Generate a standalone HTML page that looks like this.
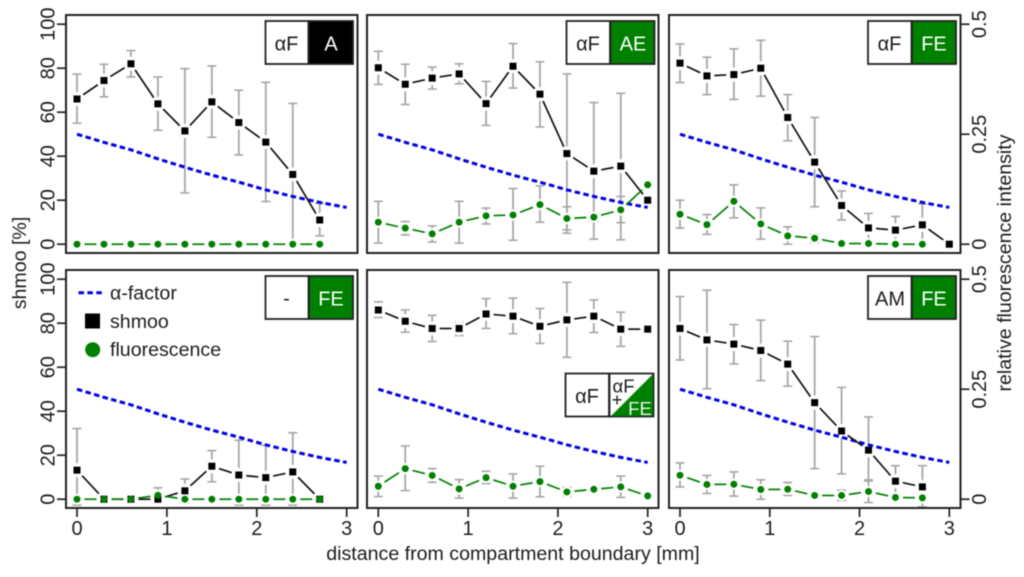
<!DOCTYPE html>
<html lang="en">
<head>
<meta charset="utf-8">
<title>Shmoo and fluorescence vs distance</title>
<style>
html,body{margin:0;padding:0;background:#fff;}
#chart{display:block;width:1024px;height:577px;filter:blur(0.55px);font-family:"Liberation Sans",sans-serif;fill:#1c1c1c;}
text{font-family:"Liberation Sans",sans-serif;}
</style>
</head>
<body>
<svg id="chart" xmlns="http://www.w3.org/2000/svg" width="1024" height="577" viewBox="0 0 1024 577">
  <g id="plots"></g>

  <g>
    <rect x="265.5" y="21" width="43" height="43" fill="#fff" stroke="#222" stroke-width="1.8"/>
    <rect x="308.5" y="21" width="44.5" height="43" fill="#000" stroke="#222" stroke-width="1.8"/>
    <text x="286.5" y="50.5" font-size="20" text-anchor="middle">αF</text>
    <text x="331" y="50.5" font-size="20" text-anchor="middle" fill="#fff">A</text>
  </g>
  <g>
    <rect x="566.5" y="21" width="43.5" height="43" fill="#fff" stroke="#222" stroke-width="1.8"/>
    <rect x="610.5" y="21" width="44" height="43" fill="#008000" stroke="#222" stroke-width="1.8"/>
    <text x="588" y="50.5" font-size="20" text-anchor="middle">αF</text>
    <text x="633" y="50.5" font-size="20" text-anchor="middle" fill="#fff">AE</text>
  </g>
  <g>
    <rect x="868" y="21" width="43.5" height="43" fill="#fff" stroke="#222" stroke-width="1.8"/>
    <rect x="912" y="21" width="44" height="43" fill="#008000" stroke="#222" stroke-width="1.8"/>
    <text x="889.5" y="50.5" font-size="20" text-anchor="middle">αF</text>
    <text x="934" y="50.5" font-size="20" text-anchor="middle" fill="#fff">FE</text>
  </g>
  <g>
    <rect x="265.5" y="276" width="43" height="43" fill="#fff" stroke="#222" stroke-width="1.8"/>
    <rect x="309" y="276" width="44" height="43" fill="#008000" stroke="#222" stroke-width="1.8"/>
    <text x="286.5" y="305" font-size="20" text-anchor="middle">-</text>
    <text x="331" y="305.5" font-size="20" text-anchor="middle" fill="#fff">FE</text>
  </g>
  <g>
    <rect x="565.5" y="373.5" width="43.5" height="43" fill="#fff" stroke="#222" stroke-width="1.8"/>
    <rect x="609.5" y="373.5" width="44" height="43" fill="#fff" stroke="#222" stroke-width="1.8"/>
    <polygon points="611,416 653,374 653,416" fill="#008000"/>
    <text x="587" y="403" font-size="20" text-anchor="middle">αF</text>
    <text x="623.5" y="392.5" font-size="18.5" text-anchor="middle">αF</text>
    <text x="617" y="406" font-size="18.5" text-anchor="middle">+</text>
    <text x="640" y="415" font-size="18.5" text-anchor="middle" fill="#e8f4e8">FE</text>
  </g>
  <g>
    <rect x="868" y="276" width="43.5" height="43" fill="#fff" stroke="#222" stroke-width="1.8"/>
    <rect x="912" y="276" width="44" height="43" fill="#008000" stroke="#222" stroke-width="1.8"/>
    <text x="890" y="305.5" font-size="20" text-anchor="middle">AM</text>
    <text x="934" y="305.5" font-size="20" text-anchor="middle" fill="#fff">FE</text>
  </g>

  <g>
    <line x1="78.5" y1="292.7" x2="104" y2="292.7" stroke="#0000e6" stroke-width="3" stroke-dasharray="5.5 3.4"/>
    <text x="110" y="299.5" font-size="19.6">α-factor</text>
    <rect x="85" y="313.5" width="15" height="15" fill="#000"/>
    <text x="110" y="328" font-size="19.6">shmoo</text>
    <circle cx="92.7" cy="349.7" r="7.5" fill="#008000"/>
    <text x="110" y="356" font-size="19.6">fluorescence</text>
  </g>

  <text x="26" y="263" font-size="19.6" text-anchor="middle" transform="rotate(-90 26 263)">shmoo [%]</text>
  <text x="1011" y="263" font-size="19.6" text-anchor="middle" transform="rotate(-90 1011 263)">relative fluorescence intensity</text>
  <text x="513" y="560" font-size="19.6" text-anchor="middle">distance from compartment boundary [mm]</text>
</svg>

<script>
const distances = [0, 0.3, 0.6, 0.9, 1.2, 1.5, 1.8, 2.1, 2.4, 2.7, 3];
const xTickLabels = [0, 1, 2, 3];
const yTickLabels = [0, 20, 40, 60, 80, 100];
const fluorTickLabels = [0, 0.25, 0.5];
const fluorAxisMax = 0.5;
const shmooAxisMax = 100;
const alphaFactor = [50, 46.3, 42.9, 38.8, 35, 31.4, 28.2, 24.7, 21.7, 19, 16.7];

// Fluorescence values are expressed on the shared 0-100 plotting scale (100 = 0.5 relative intensity).
const shmooA = [66, 74.4, 82, 63.8, 51.5, 64.7, 55.3, 46.4, 31.7, 11];
const shmooAHi = [77.3, 81.8, 88, 76, 79.8, 81, 70, 73.6, 64, 18.6];
const shmooALo = [55, 67, 76, 51.8, 23.3, 48.6, 40.6, 19.4, -1, 3.8];
const fluorA = [0, 0, 0, 0, 0, 0, 0, 0, 0, 0];
const fluorAHi = [null, null, null, null, null, null, null, null, null, null];
const fluorALo = [null, null, null, null, null, null, null, null, null, null];

const shmooAE = [80.2, 72.7, 75.5, 77.4, 63.9, 80.9, 68.2, 41.2, 33.2, 35.5, 20];
const shmooAEHi = [87.7, 81.8, 80.5, 82, 74, 91.2, 82.9, 77.4, 64.4, 68.6, null];
const shmooAELo = [72.6, 63.5, 70.5, 72.9, 54, 71, 53.3, 5, 2.3, 2, null];
const fluorAE = [10, 7.3, 4.7, 10, 12.9, 13.3, 18, 11.7, 12.3, 15.6, 27];
const fluorAEHi = [19.5, 10.3, 8.3, 19.5, 16.4, 25.3, 26.5, 17, 14, 21.7, null];
const fluorAELo = [0.5, 4.2, 1, 0.5, 9.2, 1.8, 10, 6.5, 10.5, 9.8, null];

const shmooFE = [82.3, 76.5, 77.1, 80, 57.6, 37.3, 17.6, 7.4, 6.4, 8.8, 0];
const shmooFEHi = [91, 85, 88.8, 92.7, 68, 57.6, 24.2, 14, 12.6, 18.3, null];
const shmooFELo = [73.5, 68, 65.8, 67.3, 47, 17, 11, 0, 0, 0, null];
const fluorFE = [13.6, 8.9, 19.5, 9.2, 3.8, 2.7, 0.3, 0.3, 0, 0];
const fluorFEHi = [20, 13.5, 27, 16.5, 7.9, 4.5, null, null, null, null];
const fluorFELo = [7.3, 4.5, 12, 2.3, 0, 0.8, null, null, null, null];

const shmooNone = [13.2, 0, 0, 0, 3.8, 15, 11, 9.8, 12.4, 0];
const shmooNoneHi = [32.1, null, null, 5.2, 9.2, 22.1, 26.8, 24.5, 30.2, null];
const shmooNoneLo = [-2.7, null, null, 0, -1.8, 7.9, -2.7, -2.7, -2.7, null];
const fluorNone = [0, 0, 0, 1.8, 0, 0, 0, 0, 0, 0];
const fluorNoneHi = [null, null, null, null, null, null, null, null, null, null];
const fluorNoneLo = [null, null, null, null, null, null, null, null, null, null];

const shmooMix = [86, 80.9, 77.6, 77.6, 84.2, 83.2, 78.6, 81.5, 83.2, 77.3, 77.3];
const shmooMixHi = [89.7, 86, 83.6, 80.3, 91.2, 91.4, 86.7, 98.6, 90.6, 85, null];
const shmooMixLo = [82.6, 75.9, 71.7, 74.4, 77.6, 75.2, 70.8, 64.5, 75.8, 69.5, null];
const fluorMix = [5.9, 13.9, 10.8, 4.7, 9.8, 5.9, 8, 3.3, 4.5, 5.6, 1.5];
const fluorMixHi = [10.5, 24.2, 13.9, 8.9, 12.7, 11.5, 15, 5.3, null, 10.5, null];
const fluorMixLo = [1.2, 3.9, 7.7, 0.5, 7.1, 0.5, 1.1, 1.4, null, 0.8, null];

const shmooAM = [77.6, 72.4, 70.5, 67.6, 61.4, 43.9, 31, 22.3, 8.2, 5.6];
const shmooAMHi = [92.1, 95, 79.4, 81.4, 71.8, 73.9, 50.8, 37.4, 15.2, 15.2];
const shmooAMLo = [63.3, 50.2, 61.5, 53.9, 51.4, 13.9, 11.5, 8.3, 0.8, -3.5];
const fluorAM = [10.9, 6.7, 6.8, 4.4, 4.5, 1.7, 1.7, 3.5, 0.8, 0.6];
const fluorAMHi = [16.5, 10.8, 12.4, 8.8, 7.6, 3, 4.1, 8.8, null, null];
const fluorAMLo = [5.6, 2.6, 1.4, 0, 1.7, 0.3, -0.6, -1.5, null, null];

const NS = 'http://www.w3.org/2000/svg';
const root = document.getElementById('plots');
const LINE_GAP = 7.5;
const COLOR_BAR = '#a6a6a6';
const COLOR_GREEN = '#008000';
const COLOR_BLUE = '#0000e6';
const COLOR_AXIS = '#222222';

const panels = [
  { key: 'a', left: 66, top: 15, x0: 77, x3: 346.7, showY: true, showR: false, showX: false,
    shmoo: shmooA, shmooHi: shmooAHi, shmooLo: shmooALo, fluor: fluorA, fluorHi: fluorAHi, fluorLo: fluorALo },
  { key: 'ae', left: 367, top: 15, x0: 378.3, x3: 647.7, showY: false, showR: false, showX: false,
    shmoo: shmooAE, shmooHi: shmooAEHi, shmooLo: shmooAELo, fluor: fluorAE, fluorHi: fluorAEHi, fluorLo: fluorAELo },
  { key: 'fe', left: 669, top: 15, x0: 680, x3: 949.3, showY: false, showR: true, showX: false,
    shmoo: shmooFE, shmooHi: shmooFEHi, shmooLo: shmooFELo, fluor: fluorFE, fluorHi: fluorFEHi, fluorLo: fluorFELo },
  { key: 'none', left: 66, top: 270, x0: 77, x3: 346.7, showY: true, showR: false, showX: true,
    shmoo: shmooNone, shmooHi: shmooNoneHi, shmooLo: shmooNoneLo, fluor: fluorNone, fluorHi: fluorNoneHi, fluorLo: fluorNoneLo },
  { key: 'mix', left: 367, top: 270, x0: 378.3, x3: 647.7, showY: false, showR: false, showX: true,
    shmoo: shmooMix, shmooHi: shmooMixHi, shmooLo: shmooMixLo, fluor: fluorMix, fluorHi: fluorMixHi, fluorLo: fluorMixLo },
  { key: 'am', left: 669, top: 270, x0: 680, x3: 949.3, showY: false, showR: true, showX: true,
    shmoo: shmooAM, shmooHi: shmooAMHi, shmooLo: shmooAMLo, fluor: fluorAM, fluorHi: fluorAMHi, fluorLo: fluorAMLo }
];

function make(parent, tag, attrs) {
  const node = document.createElementNS(NS, tag);
  for (const k in attrs) node.setAttribute(k, attrs[k]);
  parent.appendChild(node);
  return node;
}

function drawSegments(parent, points, color) {
  for (let i = 0; i + 1 < points.length; i++) {
    const a = points[i];
    const b = points[i + 1];
    const dx = b[0] - a[0];
    const dy = b[1] - a[1];
    const d = Math.hypot(dx, dy);
    if (d <= 2 * LINE_GAP) continue;
    const ux = dx / d;
    const uy = dy / d;
    const el = make(parent, 'line', {
      x1: a[0] + ux * LINE_GAP, y1: a[1] + uy * LINE_GAP,
      x2: b[0] - ux * LINE_GAP, y2: b[1] - uy * LINE_GAP,
      stroke: color, 'stroke-width': 1.7
    });
    
    
  }
}

function drawErrorBars(parent, values, hi, lo, xFn, yFn) {
  values.forEach(function (v, i) {
    if (hi[i] === null || lo[i] === null) return;
    const x = xFn(distances[i]);
    const yHi = yFn(hi[i]);
    const yLo = yFn(lo[i]);
    const stem = make(parent, 'line', { x1: x, y1: yHi, x2: x, y2: yLo, stroke: COLOR_BAR, 'stroke-width': 1.8 });
    
    
    const capTop = make(parent, 'line', { x1: x - 4.5, y1: yHi, x2: x + 4.5, y2: yHi, stroke: COLOR_BAR, 'stroke-width': 1.6 });
    
    
    const capBottom = make(parent, 'line', { x1: x - 4.5, y1: yLo, x2: x + 4.5, y2: yLo, stroke: COLOR_BAR, 'stroke-width': 1.6 });
    
    
  });
}

panels.forEach(function (p) {
  const g = make(root, 'g', {});
  
  

  const right = p.left + 291.5;
  const bottom = p.top + 238;
  const y0 = p.top + 229.2;
  const xScale = function (v) { return p.x0 + (p.x3 - p.x0) * v / xTickLabels[xTickLabels.length - 1]; };
  const yScale = function (v) { return y0 - 220 * v / shmooAxisMax; };
  const rScale = function (v) { return y0 - 220 * v / fluorAxisMax; };

  drawErrorBars(g, p.shmoo, p.shmooHi, p.shmooLo, xScale, yScale);
  drawErrorBars(g, p.fluor, p.fluorHi, p.fluorLo, xScale, yScale);

  p.shmoo.forEach(function (v, i) {
    const halo = make(g, 'circle', { cx: xScale(distances[i]), cy: yScale(v), r: 7, fill: '#fff' });
    
    
  });
  p.fluor.forEach(function (v, i) {
    const halo = make(g, 'circle', { cx: xScale(distances[i]), cy: yScale(v), r: 5.5, fill: '#fff' });
    
    
  });

  const blue = make(g, 'polyline', {
    points: alphaFactor.map(function (v, i) { return xScale(distances[i]) + ',' + yScale(v); }).join(' '),
    fill: 'none', stroke: COLOR_BLUE, 'stroke-width': 3, 'stroke-dasharray': '5.5 3.4'
  });
  
  

  drawSegments(g, p.shmoo.map(function (v, i) { return [xScale(distances[i]), yScale(v)]; }), '#111');
  p.shmoo.forEach(function (v, i) {
    const sq = make(g, 'rect', { x: xScale(distances[i]) - 3.5, y: yScale(v) - 3.5, width: 7, height: 7, fill: '#000' });
    
    
  });

  drawSegments(g, p.fluor.map(function (v, i) { return [xScale(distances[i]), yScale(v)]; }), COLOR_GREEN);
  p.fluor.forEach(function (v, i) {
    const dot = make(g, 'circle', { cx: xScale(distances[i]), cy: yScale(v), r: 3.5, fill: COLOR_GREEN });
    
    
  });

  const box = make(g, 'rect', { x: p.left, y: p.top, width: right - p.left, height: bottom - p.top, fill: 'none', stroke: COLOR_AXIS, 'stroke-width': 2 });
  
  

  if (p.showY) {
    yTickLabels.forEach(function (t) {
      const y = yScale(t);
      const tick = make(g, 'line', { x1: p.left - 9, y1: y, x2: p.left, y2: y, stroke: COLOR_AXIS, 'stroke-width': 1.7 });
      
      
      const label = make(g, 'text', { x: 54.5, y: y, 'font-size': 20, 'text-anchor': 'middle', transform: 'rotate(-90 54.5 ' + y + ')' });
      
      
      label.textContent = t;
    });
  }
  if (p.showR) {
    fluorTickLabels.forEach(function (t) {
      const y = rScale(t);
      const tick = make(g, 'line', { x1: right, y1: y, x2: right + 9, y2: y, stroke: COLOR_AXIS, 'stroke-width': 1.7 });
      
      
      const label = make(g, 'text', { x: 986, y: y, 'font-size': 20, 'text-anchor': 'middle', transform: 'rotate(-90 986 ' + y + ')' });
      
      
      label.textContent = t;
    });
  }
  if (p.showX) {
    xTickLabels.forEach(function (t) {
      const x = xScale(t);
      const tick = make(g, 'line', { x1: x, y1: bottom, x2: x, y2: bottom + 9, stroke: COLOR_AXIS, 'stroke-width': 1.7 });
      
      
      const label = make(g, 'text', { x: x, y: 535, 'font-size': 20, 'text-anchor': 'middle' });
      
      
      label.textContent = t;
    });
  }
});
</script>
</body>
</html>
